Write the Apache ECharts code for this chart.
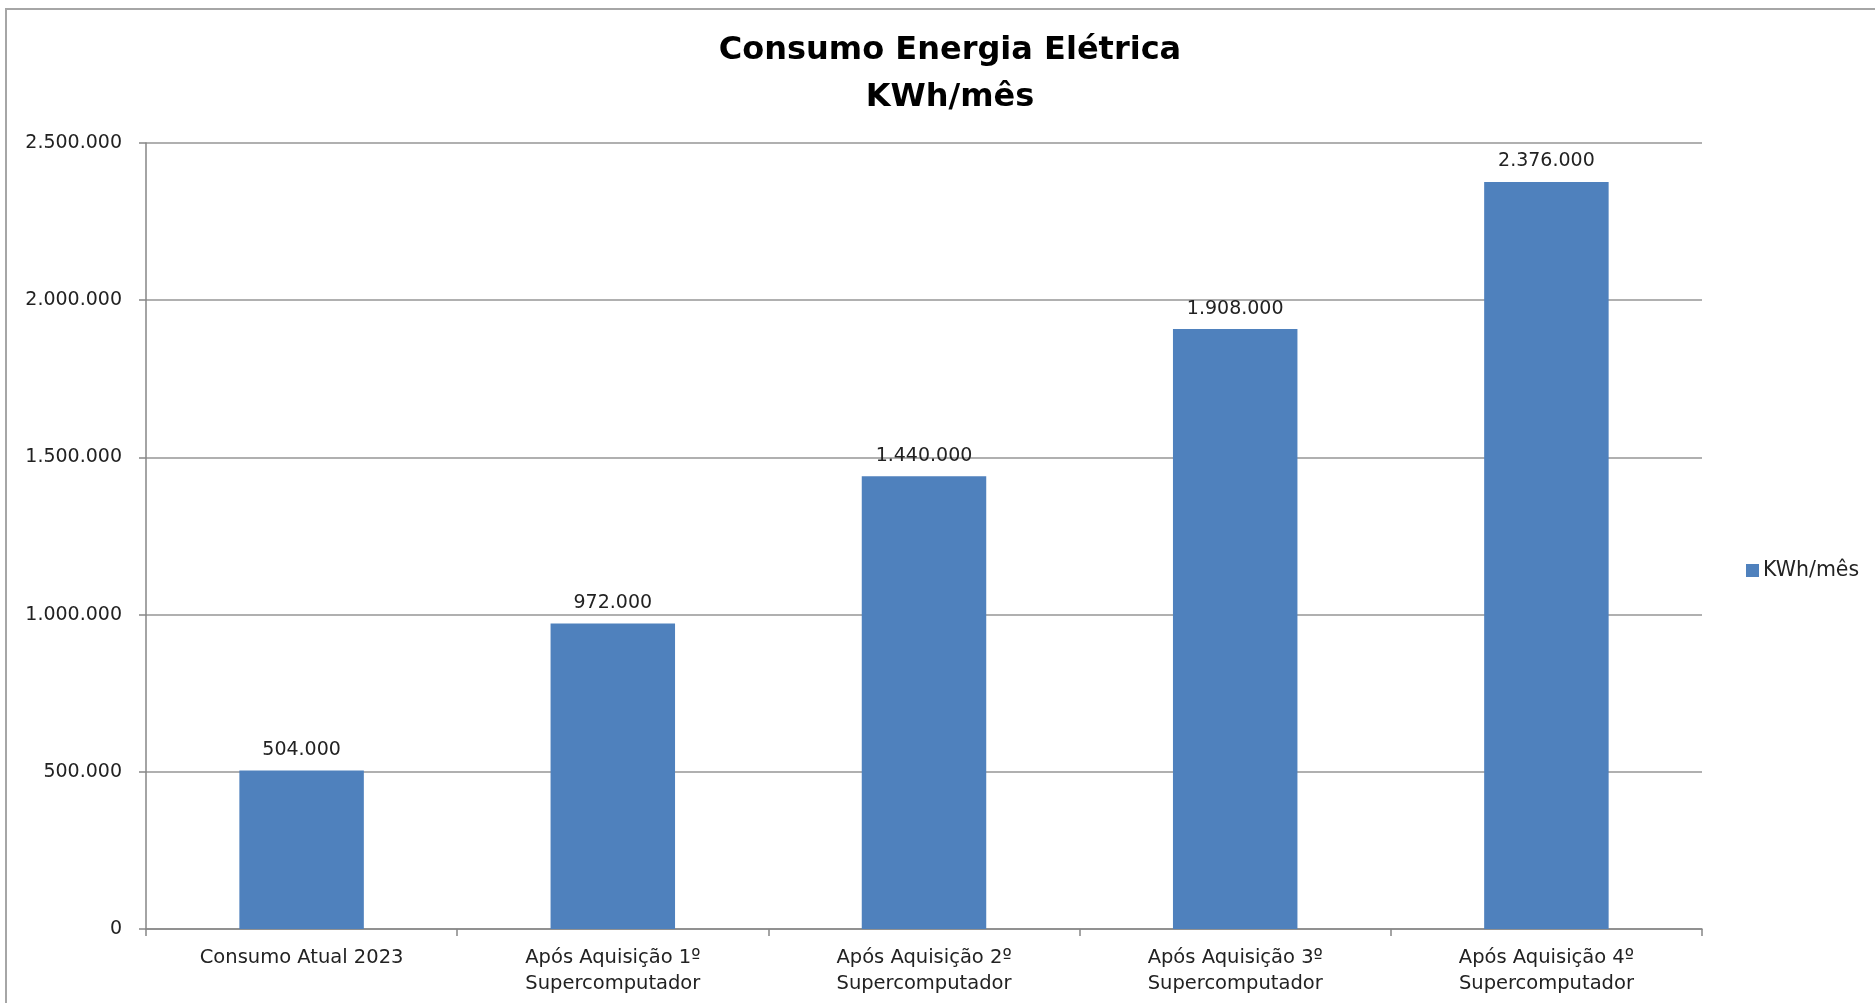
<!DOCTYPE html>
<html>
<head>
<meta charset="utf-8">
<script src="https://cdn.jsdelivr.net/npm/echarts@6/dist/echarts.min.js"></script>
<style>
html,body{margin:0;padding:0;background:#fff;}
#chart{width:1875px;height:1003px;}
</style>
</head>
<body>
<div id="chart"></div>
<script>
const titleLines = ['Consumo Energia Elétrica', 'KWh/mês'];
const seriesName = 'KWh/mês';
const categories = [
  'Consumo Atual 2023',
  'Após Aquisição 1º\nSupercomputador',
  'Após Aquisição 2º\nSupercomputador',
  'Após Aquisição 3º\nSupercomputador',
  'Após Aquisição 4º\nSupercomputador'
];
const values = [504000, 972000, 1440000, 1908000, 2376000];
const yMin = 0, yMax = 2500000, yStep = 500000;

function fmt(v){
  return String(Math.round(v)).replace(/\B(?=(\d{3})+(?!\d))/g, '.');
}

const chart = echarts.init(document.getElementById('chart'));
chart.setOption({
  backgroundColor: '#ffffff',
  animation: false,
  graphic: [{
    type: 'rect',
    shape: {x: 6, y: 9, width: 1900, height: 1100},
    style: {fill: 'none', stroke: '#a6a6a6', lineWidth: 2},
    silent: true, z: -1
  }],
  title: {
    text: titleLines.join('\n'),
    left: 945,
    top: 22,
    textAlign: 'center',
    textStyle: {
      fontFamily: 'DejaVu Sans',
      fontWeight: 'bold',
      fontSize: 32,
      lineHeight: 47,
      color: '#000'
    }
  },
  legend: {
    data: [seriesName],
    left: 1741,
    top: 555,
    itemWidth: 13,
    itemHeight: 13,
    itemGap: 5,
    icon: 'rect',
    textStyle: {fontFamily: 'DejaVu Sans', fontSize: 20.5, lineHeight: 21, color: '#222', padding: [0,0,0,-1]}
  },
  grid: {left: 146, right: 173, top: 143, bottom: 74, containLabel: false},
  xAxis: {
    type: 'category',
    data: categories,
    axisLine: {show: true, lineStyle: {color: '#868686', width: 1.5}},
    axisTick: {show: true, length: 7, alignWithLabel: false, lineStyle: {color: '#868686', width: 1.5}},
    axisLabel: {
      interval: 0,
      margin: 16,
      fontFamily: 'DejaVu Sans',
      fontSize: 19.5,
      lineHeight: 26,
      color: '#222'
    },
    splitLine: {show: false}
  },
  yAxis: {
    type: 'value',
    min: yMin,
    max: yMax,
    interval: yStep,
    axisLine: {show: true, lineStyle: {color: '#868686', width: 1.5}},
    axisTick: {show: true, length: 7, lineStyle: {color: '#868686', width: 1.5}},
    axisLabel: {
      margin: 24,
      fontFamily: 'DejaVu Sans',
      fontSize: 19,
      color: '#222',
      formatter: fmt
    },
    splitLine: {show: true, lineStyle: {color: '#969696', width: 1.5}}
  },
  series: [{
    name: seriesName,
    type: 'bar',
    data: values,
    barWidth: '40%',
    itemStyle: {color: '#4F81BD'},
    label: {
      show: true,
      position: 'top',
      distance: 11,
      fontFamily: 'DejaVu Sans',
      fontSize: 19,
      color: '#222',
      formatter: p => fmt(p.value)
    }
  }]
});
</script>
</body>
</html>
